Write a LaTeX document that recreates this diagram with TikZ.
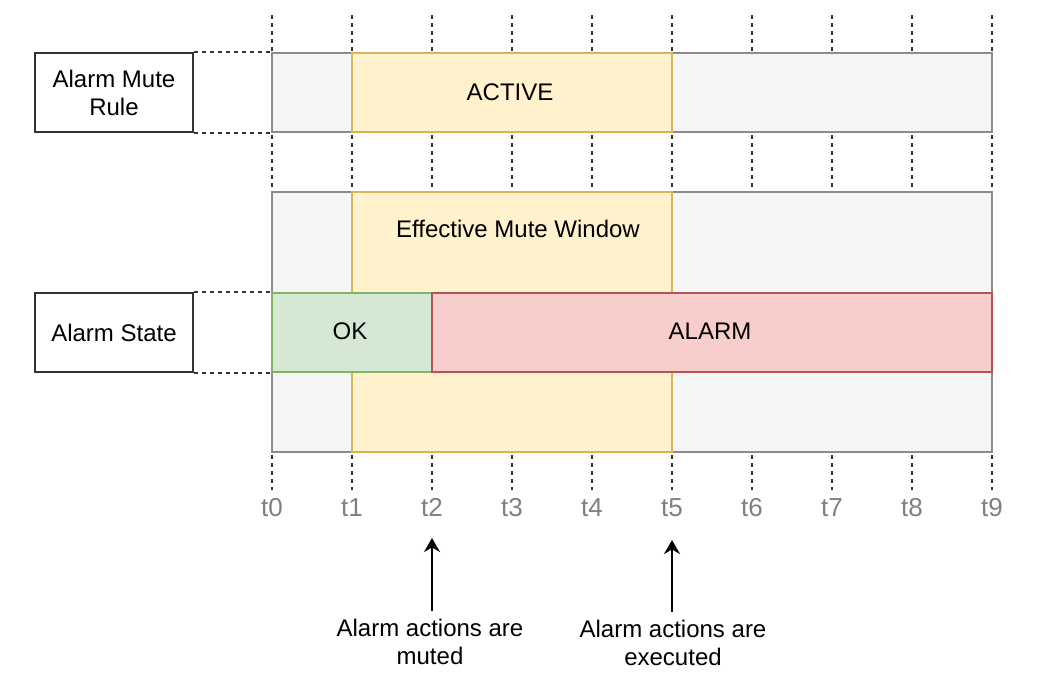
\documentclass[tikz,border=0pt]{standalone}
\usepackage{fontspec}
\setmainfont{Liberation Sans}
\usetikzlibrary{arrows.meta}
\definecolor{greyfill}{HTML}{F5F5F5}
\definecolor{greyline}{HTML}{8C8C8C}
\definecolor{yelfill}{HTML}{FFF2CC}
\definecolor{yelline}{HTML}{D6B656}
\definecolor{grnfill}{HTML}{D5E8D4}
\definecolor{grnline}{HTML}{82B366}
\definecolor{redfill}{HTML}{F8CECC}
\definecolor{redline}{HTML}{B85450}
\definecolor{ticktext}{HTML}{808080}
\definecolor{darkline}{HTML}{333333}
\begin{document}
\begin{tikzpicture}[x=0.5pt,y=-0.5pt,
  bar/.style={rectangle,line width=1pt,inner sep=0pt,minimum height=39.5pt},
  labelbox/.style={rectangle,draw=darkline,line width=1pt,fill=white,inner sep=0pt,
     minimum width=79pt,minimum height=39.5pt,align=center,font=\fontsize{12}{14}\selectfont},
  tickline/.style={draw=black!80,line width=1pt,dash pattern=on 2pt off 2pt},
  guide/.style={draw=black!80,line width=1pt,dash pattern=on 2pt off 2pt},
  ticklabel/.style={text=ticktext,font=\fontsize{13}{15}\selectfont,inner sep=0pt},
  caption/.style={align=center,font=\fontsize{12}{14}\selectfont,inner sep=4pt},
  txt/.style={font=\fontsize{12}{14}\selectfont,inner sep=0pt},
  pointer/.style={line width=1pt,draw=black,-{Stealth[length=7pt,width=8pt]}}
]
\useasboundingbox[fill=white] (0,0) rectangle (1042,692);

% vertical time guides
\foreach \i in {0,...,9}{
  \draw[tickline] (272+80*\i,15) -- (272+80*\i,490);
}

% row 1: Alarm Mute Rule
\node[bar,fill=greyfill,draw=greyline,minimum width=360pt] (rulebar) at (632,92.5) {};
\node[bar,fill=yelfill,draw=yelline,minimum width=160pt] (active) at (512,92.5) {};
\node[txt] (activetxt) at (510,92) {ACTIVE};
\node[labelbox] (rule) at (114,92.5) {Alarm Mute\\Rule};
\draw[guide] (rule.north east) -- (rulebar.north west);
\draw[guide] (rule.south east) -- (rulebar.south west);

% row 2: effective mute window and alarm state
\node[bar,fill=greyfill,draw=greyline,minimum width=360pt,minimum height=130pt] (winbar) at (632,322) {};
\node[bar,fill=yelfill,draw=yelline,minimum width=160pt,minimum height=130pt] (window) at (512,322) {};
\node[txt] (wintxt) at (518,229) {Effective Mute Window};
\node[bar,fill=grnfill,draw=grnline,minimum width=80pt] (ok) at (352,332.5) {};
\node[bar,fill=redfill,draw=redline,minimum width=280pt] (alarm) at (712,332.5) {};
\node[txt] at (350,331) {OK};
\node[txt] at (710,331) {ALARM};
\node[labelbox] (state) at (114,332.5) {Alarm State};
\draw[guide] (state.north east) -- (ok.north west);
\draw[guide] (state.south east) -- (ok.south west);

% tick labels
\foreach \i in {0,...,9}{
  \node[ticklabel] (t\i) at (272+80*\i,508) {t\i};
}

% annotations
\coordinate (a2) at (432,538);
\coordinate (a5) at (672,540);
\node[caption] (cap2) at (430,642) {Alarm actions are\\muted};
\node[caption] (cap5) at (673,643) {Alarm actions are\\executed};
\draw[pointer] (cap2.north -| a2) -- (a2);
\draw[pointer] (cap5.north -| a5) -- (a5);
\end{tikzpicture}
\end{document}
